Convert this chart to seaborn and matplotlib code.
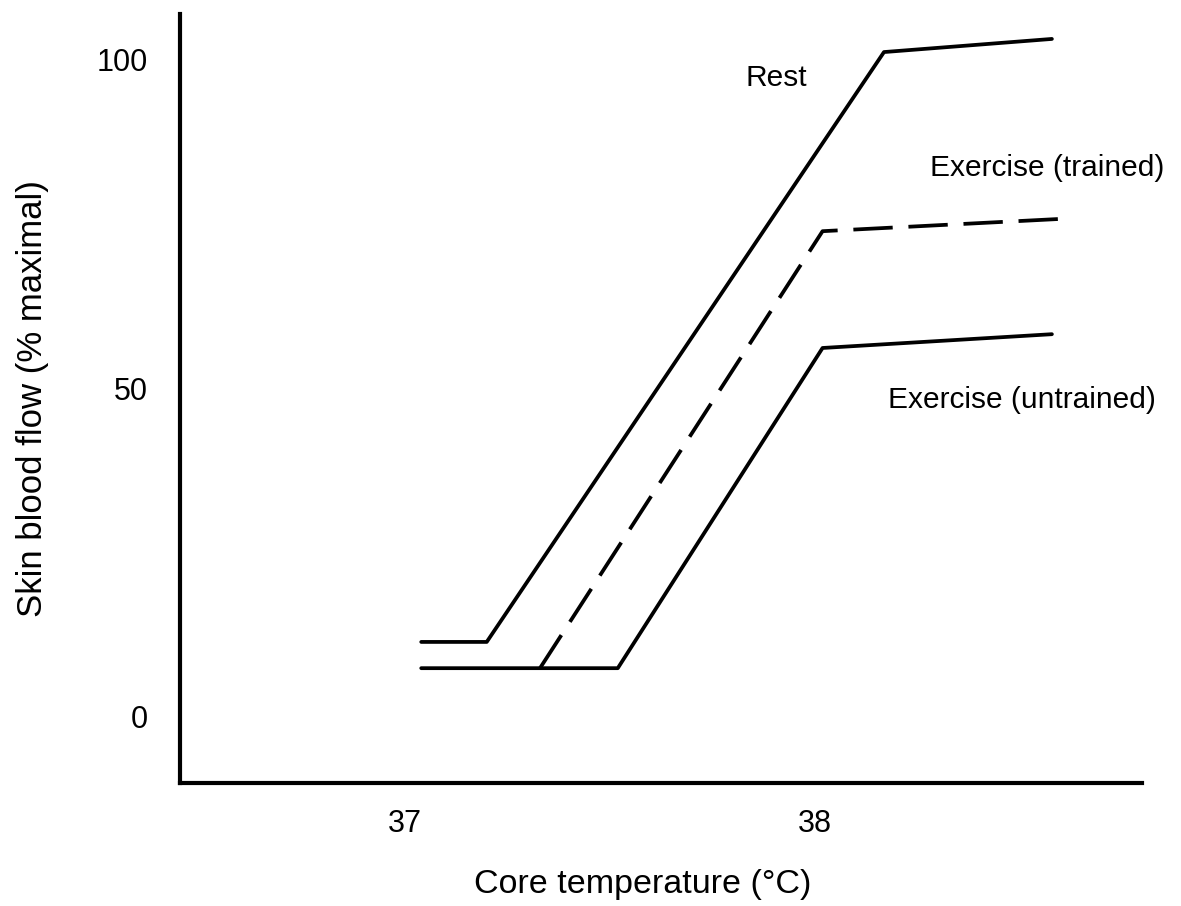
import pandas as pd
import matplotlib.pyplot as plt
import seaborn as sns

# Data (core temp in degC, skin blood flow in % maximal)
rest_temp = [37.04, 37.20, 38.17, 38.58]
rest_flow = [11.3, 11.3, 101.2, 103.2]

trained_temp = [37.33, 38.02, 38.61]
trained_flow = [7.3, 73.9, 75.8]

untrained_temp = [37.04, 37.52, 38.02, 38.58]
untrained_flow = [7.3, 7.3, 56.1, 58.2]

x_ticks = [37, 38]
y_ticks = [0, 50, 100]

labels = ["Rest", "Exercise (trained)", "Exercise (untrained)"]
label_x = [37.907, 38.568, 38.507]
label_y = [97.3, 83.5, 48.2]

rest = pd.DataFrame({"temp": rest_temp, "flow": rest_flow})
trained = pd.DataFrame({"temp": trained_temp, "flow": trained_flow})
untrained = pd.DataFrame({"temp": untrained_temp, "flow": untrained_flow})

sns.set_style("white")
plt.rcParams["font.family"] = ["Liberation Sans", "DejaVu Sans"]
plt.rcParams["text.color"] = "black"
plt.rcParams["axes.labelcolor"] = "black"
plt.rcParams["xtick.color"] = "black"
plt.rcParams["ytick.color"] = "black"

fig = plt.figure(figsize=(11.81, 9.06), dpi=100)
ax = fig.add_axes([180 / 1181, 1 - 783 / 906, (1142 - 180) / 1181, (783 - 14) / 906])

lw = 2.7
sns.lineplot(data=rest, x="temp", y="flow", ax=ax, color="black", linewidth=lw,
             sort=False, estimator=None)
sns.lineplot(data=untrained, x="temp", y="flow", ax=ax, color="black", linewidth=lw,
             sort=False, estimator=None)
sns.lineplot(data=trained, x="temp", y="flow", ax=ax, color="black", linewidth=lw,
             sort=False, estimator=None)
ax.lines[-1].set_dashes((10.5, 4.2))

for txt, tx, ty in zip(labels, label_x, label_y):
    ax.text(tx, ty, txt, fontsize=21.5, ha="center", va="center", color="black")

ax.set_xlim(36.451, 38.80)
ax.set_ylim(-10.2, 107.0)
ax.set_xticks(x_ticks)
ax.set_yticks(y_ticks)
ax.tick_params(axis="both", length=0, labelsize=22, colors="black")
ax.tick_params(axis="x", pad=19)
ax.tick_params(axis="y", pad=23)

ax.set_xlabel("Core temperature (°C)", fontsize=24.5)
ax.set_ylabel("Skin blood flow (% maximal)", fontsize=25)
ax.xaxis.set_label_coords((643 - 180) / (1142 - 180), -(884 - 783) / (783 - 14), transform=ax.transAxes)
ax.yaxis.set_label_coords(-(180 - 32) / (1142 - 180), 0.5)
ax.xaxis.label.set_va("center")
ax.yaxis.label.set_va("center")

sns.despine(ax=ax)
for side in ["left", "bottom"]:
    ax.spines[side].set_linewidth(3)
    ax.spines[side].set_color("black")

plt.savefig("out.png", dpi=100)
